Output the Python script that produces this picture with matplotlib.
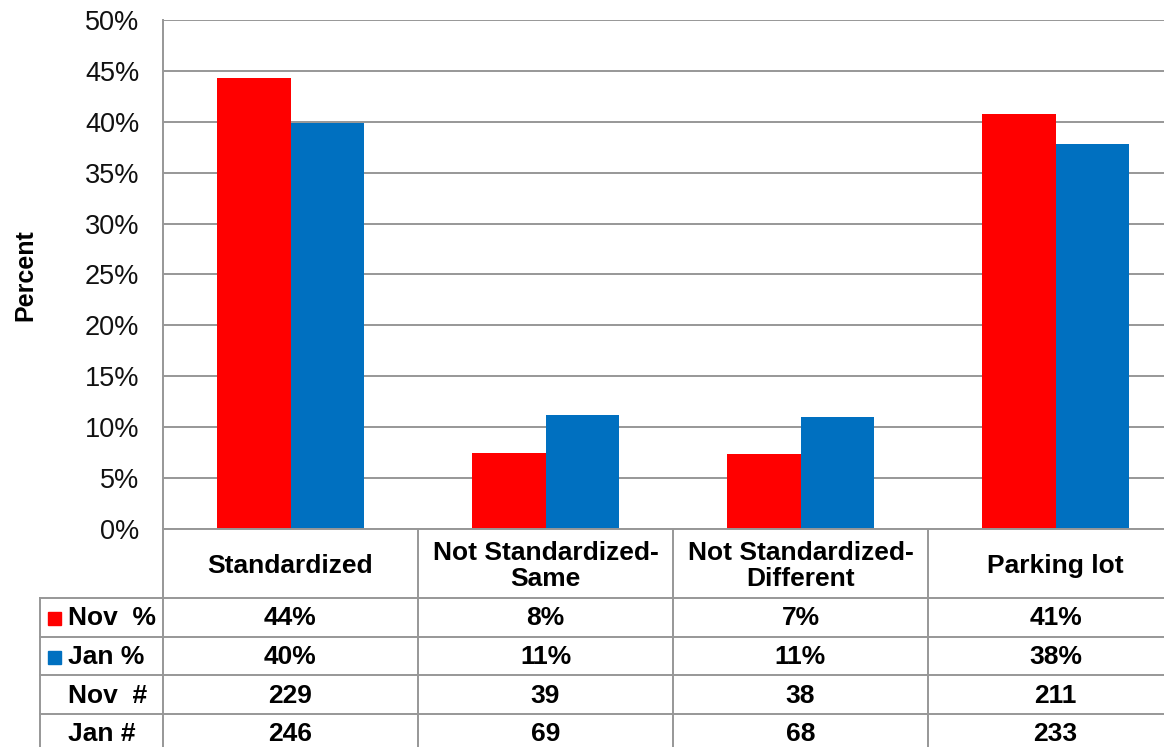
import matplotlib
matplotlib.use("Agg")
import matplotlib.pyplot as plt
import numpy as np

plt.rcParams['font.family'] = ['Liberation Sans', 'DejaVu Sans']

categories = ["Standardized", "Not Standardized-\nSame", "Not Standardized-\nDifferent", "Parking lot"]
nov_pct = [44.3, 7.5, 7.4, 40.8]
jan_pct = [39.9, 11.2, 11.0, 37.8]
nov_pct_labels = ["44%", "8%", "7%", "41%"]
jan_pct_labels = ["40%", "11%", "11%", "38%"]
nov_count = ["229", "39", "38", "211"]
jan_count = ["246", "69", "68", "233"]
row_labels = ["Nov  %", "Jan %", "Nov  #", "Jan #"]
yticks = [0, 5, 10, 15, 20, 25, 30, 35, 40, 45, 50]

RED = "#FF0000"
BLUE = "#0070C0"
GRID = "#979797"

W, H = 1164, 747
fig = plt.figure(figsize=(W / 100, H / 100), dpi=100)

# main axes in pixel coordinates
x0, x1 = 163, 1183
ytop, ybot = 20, 529
ax = fig.add_axes([x0 / W, (H - ybot) / H, (x1 - x0) / W, (ybot - ytop) / H])
x = np.arange(len(categories))
bw = 0.2863
ax.bar(x - bw / 2, nov_pct, bw, color=RED, zorder=3)
ax.bar(x + bw / 2, jan_pct, bw, color=BLUE, zorder=3)
ax.set_xlim(-0.5, 3.5)
ax.set_ylim(0, 50)
ax.set_yticks(yticks)
ax.set_yticklabels([f"{v}%" for v in yticks], fontsize=19.5, color="#111111")
ax.tick_params(axis='y', length=0, pad=17)
ax.set_xticks([])
ax.yaxis.grid(True, color=GRID, linewidth=1.4, zorder=0)
for s in ["top", "right", "bottom"]:
    ax.spines[s].set_visible(False)
ax.spines["left"].set_color(GRID)
ax.spines["left"].set_linewidth(1.4)
ax.set_axisbelow(True)

fig.text(25 / W, 1 - 275 / H, "Percent", rotation=90, fontsize=18, fontweight="bold",
         ha="center", va="center")

# table axes below
tax = fig.add_axes([x0 / W, 0, (x1 - x0) / W, (H - ybot) / H])
tax.set_xlim(-0.5, 3.5)
tax.set_ylim(H - ybot, 0)
tax.axis("off")

lx = -0.5 - (163 - 40) / 255.0  # left edge of row-label column in data units
header_h = 69
row_h = 38.7
bounds = [0, header_h] + [header_h + row_h * (i + 1) for i in range(4)]
lc = dict(color=GRID, linewidth=1.4, clip_on=False)

# horizontal lines
tax.plot([-0.5, 3.5], [0, 0], **lc)
for b in bounds[1:5]:
    tax.plot([lx, 3.5], [b, b], **lc)
# vertical lines
for vx in [-0.5, 0.5, 1.5, 2.5]:
    tax.plot([vx, vx], [0, H - ybot + 5], **lc)
tax.plot([lx, lx], [header_h, H - ybot + 5], **lc)

# header
for i, c in enumerate(categories):
    tax.text(i, header_h / 2 + 2.5, c, ha="center", va="center", fontsize=19,
             fontweight="bold", linespacing=1.12)

rows = [nov_pct_labels, jan_pct_labels, nov_count, jan_count]
for r, vals in enumerate(rows):
    yc = header_h + row_h * (r + 0.5)
    for i, v in enumerate(vals):
        tax.text(i, yc + 1, v, ha="center", va="center", fontsize=19, fontweight="bold")
    tax.text(-0.5 - (163 - 68) / 255.0, yc + 1, row_labels[r], ha="left", va="center",
             fontsize=19, fontweight="bold")

# legend keys
sq = 13
for r, col in [(0, RED), (1, BLUE)]:
    yc = header_h + row_h * (r + 0.5)
    tax.add_patch(plt.Rectangle((-0.5 - (163 - 48) / 255.0, yc - sq / 2 + 1), sq / 255.0, sq,
                                color=col, clip_on=False))

fig.savefig("out.png", dpi=100)
